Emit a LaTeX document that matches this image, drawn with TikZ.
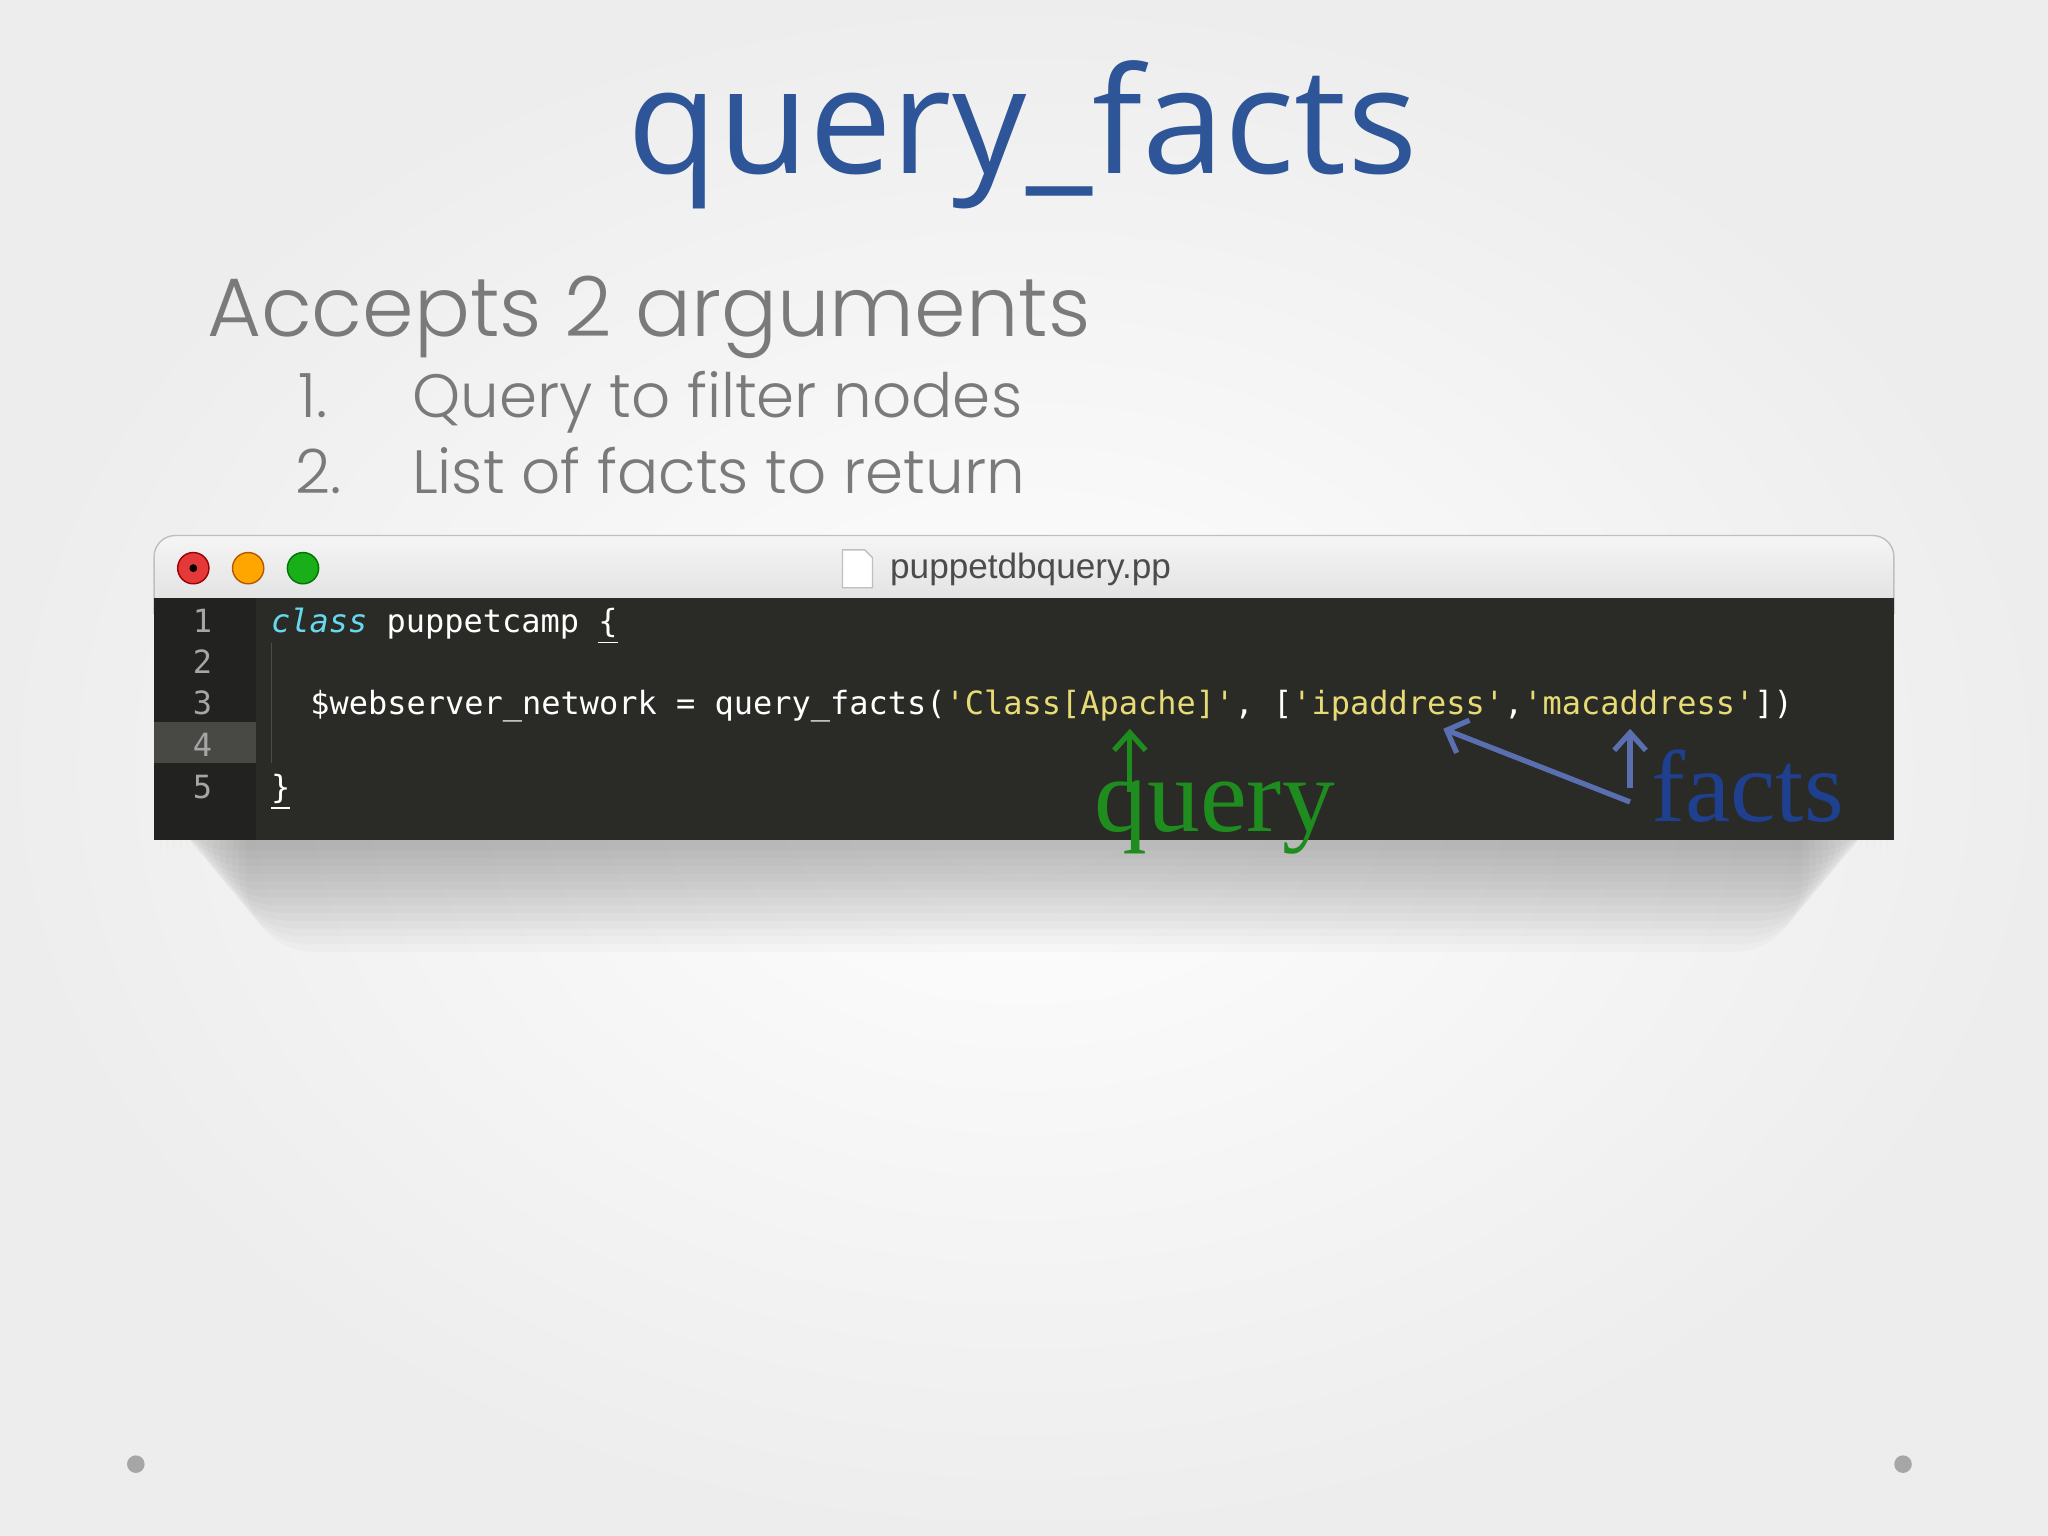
\documentclass[tikz,border=0pt]{standalone}
\usepackage{fontspec}
\setmainfont{Liberation Serif}
\newfontfamily\titlef{Open Sans}
\newfontfamily\gothf{Poppins}[UprightFont=* Light]
\newfontfamily\monof{DejaVu Sans Mono}
\newfontfamily\uif{Liberation Sans}
\usetikzlibrary{arrows.meta}
\definecolor{titleblue}{HTML}{2E5597}
\definecolor{txtgray}{HTML}{7A7A7A}
\definecolor{codebg}{HTML}{2A2A26}
\definecolor{gutbg}{HTML}{222220}
\definecolor{kwcyan}{HTML}{66D9EF}
\definecolor{stry}{HTML}{E6DB74}
\definecolor{qgreen}{HTML}{1E8C1E}
\definecolor{fblue}{HTML}{1F3F8F}
\definecolor{arrblue}{HTML}{5A6FB0}
\tikzset{
 codeline/.style={anchor=base west,inner sep=0,text=white,font=\monof\fontsize{9.1}{10}\selectfont},
 lnum/.style={anchor=base,inner sep=0,text=gray!70,font=\monof\fontsize{9.1}{10}\selectfont},
 light/.style={circle,minimum size=8.9pt,inner sep=0},
 bullet/.style={circle,fill=gray!70,minimum size=5pt,inner sep=0},
}
\begin{document}
\begin{tikzpicture}[x=0.013061cm,y=-0.013061cm]
\useasboundingbox (0,0) rectangle (1568,1176);
\shade[inner color=white,outer color=gray!14] (0,0) rectangle (1568,1176);
\node[anchor=base,inner sep=0,text=titleblue,font=\titlef\fontsize{42}{48}\selectfont] (title) at (783,133) {query\_facts};
\node[anchor=base west,inner sep=0,text=txtgray,font=\gothf\fontsize{23.6}{28}\selectfont] (acc) at (158,258) {Accepts 2 arguments};
\node[anchor=base west,inner sep=0,text=txtgray,font=\gothf\fontsize{17.4}{22}\selectfont] (n1) at (228,320) {1.};
\node[anchor=base west,inner sep=0,text=txtgray,font=\gothf\fontsize{17.4}{22}\selectfont] (i1) at (315,320) {Query to filter nodes};
\node[anchor=base west,inner sep=0,text=txtgray,font=\gothf\fontsize{17.4}{22}\selectfont] (n2) at (226,378) {2.};
\node[anchor=base west,inner sep=0,text=txtgray,font=\gothf\fontsize{17.4}{22}\selectfont] (i2) at (315,378) {List of facts to return};
% shadow
\foreach \i in {1,...,14}{
 \fill[black,opacity=0.018,rounded corners=20pt] (118+\i*5,600) rectangle (1450-\i*5,645+\i*6);
}
% window
\shade[top color=gray!8,bottom color=gray!25,rounded corners=6pt] (118,410) rectangle (1450,470);
\draw[gray!50,rounded corners=6pt] (118,470) |- (1450,410) -- (1450,470);
\fill[codebg] (118,458) rectangle (1450,643);
\fill[gutbg] (118,458) rectangle (196,643);
\fill[gray!35!codebg] (118,553) rectangle (196,584);
\draw[gray!40!codebg] (208,492) -- (208,584);
\node[light,fill=red!75!white!90!black,draw=red!60!black] (l1) at (148,435) {};
\fill[black] (l1) circle (3);
\node[light,fill=orange!70!yellow,draw=orange!70!black] (l2) at (190,435) {};
\node[light,fill=green!65!black!90!white,draw=green!45!black] (l3) at (232,435) {};
\draw[gray!50,fill=white] (645,421) -- (662,421) -- (668,427) -- (668,450) -- (645,450) -- cycle;
\node[anchor=west,inner sep=0,text=black!70,font=\uif\fontsize{10}{12}\selectfont] (fname) at (681,436) {puppetdbquery.pp};
% line numbers
\foreach \n/\yy in {1/484,2/516,3/547,4/579,5/611}{\node[lnum] at (155,\yy) {\n};}
\node[codeline] (c1) at (207,484) {\textcolor{kwcyan}{\itshape class} puppetcamp \underline{\{}};
\node[codeline] (c3) at (237,547) {\$webserver\_network = query\_facts(\textcolor{stry}{'Class[Apache]'}, [\textcolor{stry}{'ipaddress'},\textcolor{stry}{'macaddress'}])};
\node[codeline] (c5) at (207,611) {\underline{\}}};
% annotations
\coordinate (qa) at (865,606);
\coordinate (qb) at (865,558);
\draw[qgreen,line width=1.5pt,-{Straight Barb[length=5pt,width=9pt]}] (qa) -- (qb);
\node[anchor=base,inner sep=0,text=qgreen,font=\fontsize{30}{34}\selectfont] (q) at (930,637) {query};
\coordinate (fa) at (1248,614);
\coordinate (fb) at (1105,558);
\coordinate (fc) at (1248,603);
\coordinate (fd) at (1248,558);
\draw[arrblue,line width=1.5pt,-{Straight Barb[length=5pt,width=10pt]}] (fa) -- (fb);
\draw[arrblue,line width=1.5pt,-{Straight Barb[length=5pt,width=9pt]}] (fc) -- (fd);
\node[anchor=base,inner sep=0,text=fblue,font=\fontsize{29}{32}\selectfont] (f) at (1338,629) {facts};
\node[bullet] (b1) at (104,1121) {};
\node[bullet] (b2) at (1457,1121) {};
\end{tikzpicture}
\end{document}
